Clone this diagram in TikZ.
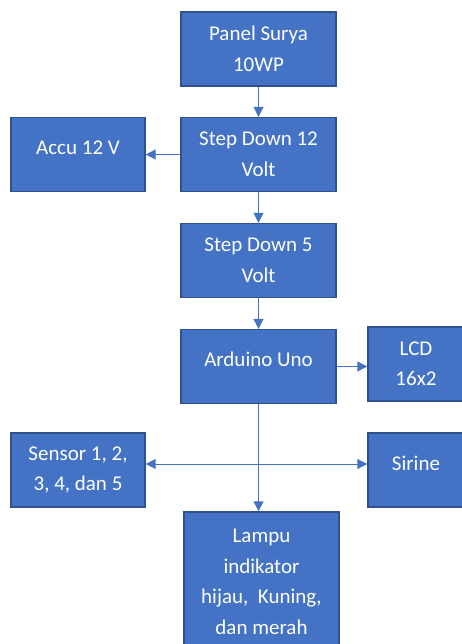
\documentclass[tikz,border=0pt]{standalone}
\usepackage{fontspec}
\setmainfont{Carlito}
\usetikzlibrary{arrows.meta}
\definecolor{biru}{HTML}{4472C4}
\definecolor{birutua}{HTML}{2F528F}
\tikzset{
  blok/.style={draw=birutua, line width=1.4pt, fill=biru, text=white, align=center,
    font=\fontsize{21}{30.5}\selectfont, inner sep=0pt},
  blokbesar/.style={blok, minimum width=155pt, minimum height=74pt},
  blokkecil/.style={blok, minimum width=134pt, minimum height=74pt},
  satubaris/.style={text height=14pt, text depth=14pt},
  panah/.style={draw=biru, line width=1pt, -{Triangle[width=10pt,length=10pt]}},
  panahdua/.style={draw=biru, line width=1pt, {Triangle[width=10pt,length=10pt]}-{Triangle[width=10pt,length=10pt]}}
}
\begin{document}
\begin{tikzpicture}[x=1pt,y=-1pt]
\useasboundingbox (0,0) rectangle (462,644);
% blok utama
\node[blokbesar] (panel) at (258.5,49) {Panel Surya\\10WP};
\node[blokbesar] (stepdua) at (258.5,154.5) {Step Down 12\\Volt};
\node[blokkecil, satubaris] (accu) at (78,154.5) {Accu 12 V};
\node[blokbesar] (steplima) at (258.5,260.5) {Step Down 5\\Volt};
\node[blokbesar, satubaris] (arduino) at (258.5,366.5) {Arduino Uno};
\node[blok, minimum width=96pt, minimum height=74pt] (lcd) at (416,364) {LCD\\16x2};
\node[blokkecil] (sensor) at (78,470) {Sensor 1, 2,\\3, 4, dan 5};
\node[blok, satubaris, minimum width=96pt, minimum height=74pt] (sirine) at (416,470) {Sirine};
\node[blokbesar, minimum height=140pt] (lampu) at (261.5,582) {Lampu\\indikator\\hijau,\ \ Kuning,\\dan merah};
% panah
\draw[panah] (panel) -- (stepdua);
\draw[panah] (stepdua) -- (accu);
\draw[panah] (stepdua) -- (steplima);
\draw[panah] (steplima) -- (arduino);
\draw[panah] (arduino.east) -- (lcd.west |- arduino.east);
\draw[panah] (arduino.south) -- (arduino.south |- lampu.north);
\draw[panahdua] ([yshift=6pt]sensor.east) -- ([yshift=6pt]sirine.west);
\end{tikzpicture}
\end{document}
